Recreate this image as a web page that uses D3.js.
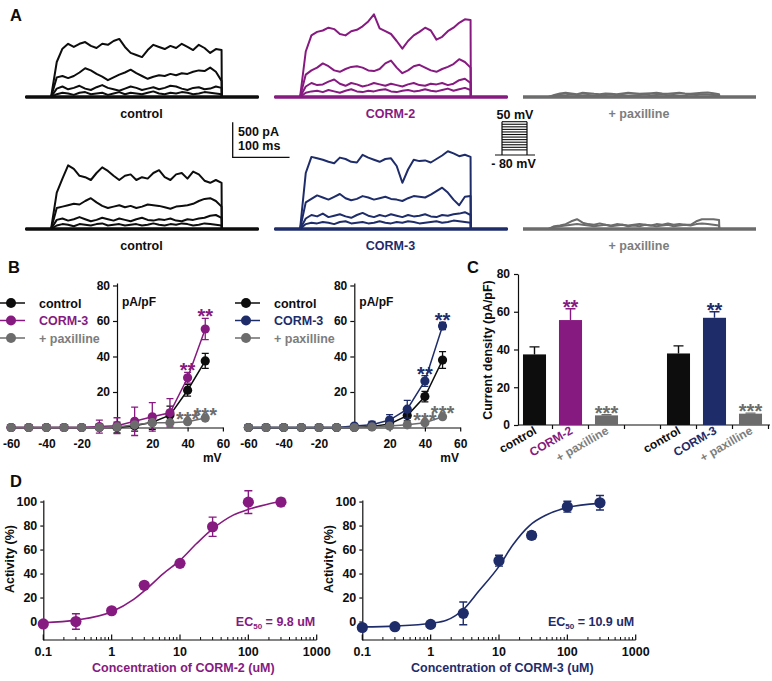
<!DOCTYPE html>
<html>
<head>
<meta charset="utf-8">
<script src="https://cdn.jsdelivr.net/npm/d3@7"></script>
<style>
  body { margin: 0; background: #fff; }
  svg { display: block; }
</style>
</head>
<body>
<svg id="fig" width="772" height="681"></svg>
<script>
// ---------- panel A : current traces (pA), sampled every 10 ms after pulse onset ----------
const traceTimes = [0,10,20,30,40,50,60,70,80,90,100,110,120,130,140,150,160,170,180,190,200,210,220,230,240,250,260,270,280,290,300];
const pulseOnset = 45, pulseLen = 300, sweepEnd = 410;

const ctl1a = [0,500,690,760,715,760,785,730,700,760, 745,800,830,715,630,600,570,670,745,715, 685,730,700,760,715,670,745,700,630,685, 670];
const ctl1b = [0,280,300,270,300,350,410,380,330,290, 240,280,320,350,390,340,300,260,290,310, 300,330,310,340,330,360,380,370,420,360, 230];
const ctl1c = [0,120,150,110,130,160,120,100,140,170, 130,110,90,120,150,130,100,120,140,110, 130,160,150,120,100,130,140,110,120,150, 130];
const ctl1d = [0,40,60,50,30,60,70,40,50,60, 30,50,70,40,60,50,40,60,80,50, 40,60,50,70,60,40,50,70,60,50, 40];

const corm2a = [0,650,880,930,950,990,970,900,880,940, 960,1010,1080,1180,980,940,900,800,690,800, 880,930,990,950,820,860,940,990,1060,1110, 1100];
const corm2b = [0,320,380,420,480,440,380,360,400,430, 440,420,380,370,400,480,520,420,340,380, 440,460,420,380,360,400,430,470,540,500, 420];
const corm2c = [0,150,200,170,180,220,250,190,160,200, 180,150,170,200,180,160,190,170,150,180, 200,170,160,190,180,200,170,190,240,260, 200];
const corm2d = [0,60,80,90,70,100,80,60,90,110, 80,70,90,80,100,110,80,70,90,100, 80,90,110,90,80,100,120,90,110,130, 100];

const pax1a = [0,30,50,60,50,40,60,55,45,40, 50,45,40,50,60,55,45,50,55,60, 50,45,55,60,50,45,55,60,65,55, 40];
const pax1b = [0,20,30,25,35,30,25,30,20,25, 30,35,25,30,20,25,30,35,25,30, 35,25,30,20,25,35,30,40,35,30, 25];

const ctl2a = [0,520,720,910,860,760,740,700,800,880, 830,760,700,760,780,700,740,720,800,840, 740,700,780,800,720,820,780,690,660,700, 660];
const ctl2b = [0,300,320,340,360,350,400,440,380,330, 300,320,340,310,330,300,320,350,340,330, 310,290,320,330,340,360,400,430,440,400, 320];
const ctl2c = [0,130,150,120,140,170,140,110,130,160, 140,120,150,130,110,140,160,130,120,140, 130,150,120,110,140,130,150,160,190,200, 160];
const ctl2d = [0,50,70,60,40,70,60,50,70,80, 50,60,70,50,60,70,50,60,80,60, 50,70,60,80,70,50,60,80,70,60, 50];

const corm3a = [0,800,1030,1010,990,960,940,1020,1000,960, 950,1060,1020,990,960,1000,1010,900,660,850, 990,970,980,950,1000,1050,1110,1080,1040,1060, 1030];
const corm3b = [0,380,430,480,450,420,460,500,440,410, 430,470,450,420,440,460,430,420,400,440, 470,460,450,490,540,590,520,420,340,460, 470];
const corm3c = [0,150,200,180,220,170,190,210,180,160, 200,230,190,170,200,180,210,190,170,200, 180,190,210,180,170,200,190,210,220,240, 200];
const corm3d = [0,70,90,80,100,90,70,100,110,80, 90,100,80,90,110,90,80,100,90,110, 100,80,90,100,110,90,100,120,110,100, 90];

const pax2a = [0,40,50,70,110,140,90,70,60,80, 60,50,70,60,50,60,70,60,50,70, 60,80,60,70,60,60,110,140,140,140, 130];
const pax2b = [0,30,40,50,60,70,60,50,40,50, 60,40,50,60,40,50,40,60,50,40, 50,60,40,50,60,50,70,80,70,60, 50];

// ---------- panel B : I-V curves ----------
const ivVoltage = [-60,-50,-40,-30,-20,-10,0,10,20,30,40,50];
const ivXTicks = [-60,-40,-20,20,40,60];
const ivYTicks = [20,40,60,80];
const ivLeftControl    = [0,0,0,0,0,0,0,1,3,7,21,37.5];
const ivLeftControlErr = [0,0,0,0,0,0,3,3,4,5,3.3,4.2];
const ivLeftCorm       = [0,0,0,0,0,0.5,1,3.5,6,8.3,28,55.5];
const ivLeftCormErr    = [0,0,0,0,0,3.7,4.5,8,8,8,3,6];
const ivLeftPax        = [0,0,0,0,0,0,0.3,1.5,2.7,2.7,3.3,5.3];
const ivLeftPaxErr     = [0,0,0,0,0,0,0,0,0,0.5,0.5,0.8];
const ivRightControl    = [0,0,0,0,0,0,0,0.5,2,6.7,17.4,38];
const ivRightControlErr = [0,0,0,0,0,0,0,1,1.5,3,3,4.7];
const ivRightCorm       = [0,0,0,0,0,0,0.8,1.5,4.2,10.3,26.2,57.2];
const ivRightCormErr    = [0,0,0,0,0,0,1,2,3,5,3,2];
const ivRightPax        = [0,0,0,0,0,0,0,0.3,0.8,1.5,2.7,6.1];
const ivRightPaxErr     = [0,0,0,0,0,0,0,0,0,0.5,0.5,0.8];
const ivLegend = ['control', 'CORM-3', '+ paxilline'];

// ---------- panel C : current density bars ----------
const barLabels = ['control', 'CORM-2', '+ paxilline', '', 'control', 'CORM-3', '+ paxilline'];
const barValues = [37.4, 55.6, 5.1, null, 37.9, 56.8, 6.0];
const barErrors = [4, 6, 0.3, null, 4, 3.2, 0.3];
const barStars  = ['', '**', '***', '', '', '**', '***'];
const barYTicks = [0,20,40,60,80];

// ---------- panel D : concentration-response ----------
const doseConc = [0.1,0.3,1,3,10,30,100,300];
const corm2Activity = [-2,0,9,30.2,48.5,79,99.5,99.5];
const corm2Err      = [0,6.5,1,2,2,8,9.5,3];
const corm3Activity = [-5,-4.3,-2.4,6.8,50.7,71.8,95.7,99];
const corm3Err      = [0,0,0,9.5,4.5,3,4.5,6];
const corm2FitConc = [0.1,0.3,1,2.1,3.3,5.7,10,17.5,30.6,60,100,185,300];
const corm2FitAct  = [-1,1.2,8.2,18.5,27.6,40,51,65,77.6,88.7,93.5,97.6,100];
const corm3FitConc = [0.1,0.3,1,1.7,3,5,10,16,28,50,100,300];
const corm3FitAct  = [-4.5,-3.8,-1.5,1,10,25,46,64,80,89,95,98.5];
const doseMajor = [0.1,1,10,100,1000];
const doseMajorLabels = ['0.1','1','10','100','1000'];
const doseYTicks = [0,20,40,60,80,100];

// ---------- styles ----------
const FONT = '"Liberation Sans", Arial, Helvetica, sans-serif';
const black = '#0d0d0d', purple = '#861a80', navy = '#1e2c6a', gray = '#6c6c6c', grayText = '#7d7d7d';

const svg = d3.select('#fig').attr('font-family', FONT).attr('font-weight', 'bold');
svg.append('rect').attr('width', 772).attr('height', 681).attr('fill', '#fff');

function txt(g, x, y, s, o = {}) {
  return g.append('text').attr('x', x).attr('y', y).text(s)
    .attr('font-size', o.size || 12.5)
    .attr('fill', o.color || black)
    .attr('text-anchor', o.anchor || 'start');
}
function styleAxis(sel, size) {
  sel.attr('font-family', FONT).attr('font-size', size).attr('font-weight', 'bold');
  sel.selectAll('path, line').attr('stroke', black).attr('stroke-width', 1.2);
  sel.selectAll('text').attr('fill', black);
}
// plain hyphen for negative ticks, as in the figure
const plain = d => String(d);

// panel letters
txt(svg, 10, 21, 'A', {size: 16.5});
txt(svg, 8, 273, 'B', {size: 16.5});
txt(svg, 467, 273, 'C', {size: 16.5});
txt(svg, 10, 487, 'D', {size: 16.5});

// ================= A =================
const aGroups = [
  {x0: 25.5, base: 97,  color: black,  traces: [ctl1d, ctl1c, ctl1b, ctl1a],     label: 'control',     lc: black},
  {x0: 274.5, base: 97, color: purple, traces: [corm2d, corm2c, corm2b, corm2a], label: 'CORM-2',      lc: purple},
  {x0: 523, base: 97,   color: gray,   traces: [pax1b, pax1a],                   label: '+ paxilline', lc: grayText},
  {x0: 25.5, base: 229, color: black,  traces: [ctl2d, ctl2c, ctl2b, ctl2a],     label: 'control',     lc: black},
  {x0: 274.5, base: 229, color: navy,  traces: [corm3d, corm3c, corm3b, corm3a], label: 'CORM-3',      lc: navy},
  {x0: 523, base: 229,  color: gray,   traces: [pax2b, pax2a],                   label: '+ paxilline', lc: grayText}
];

let tA, aA;
aGroups.forEach(gr => {
  const t = d3.scaleLinear().domain([0, sweepEnd]).range([gr.x0, gr.x0 + 233]);
  const a = d3.scaleLinear().domain([0, 500]).range([gr.base, gr.base - 35]);
  tA = t; aA = a;
  const line = d3.line().x(d => t(d[0])).y(d => a(d[1]));
  const pts = v => [[0, 0], [pulseOnset, 0]]
    .concat(v.map((d, i) => [pulseOnset + traceTimes[i], d]))
    .concat([[pulseOnset + pulseLen + 0.5, 0], [sweepEnd, 0]]);
  const g = svg.append('g');
  g.append('path').attr('d', line([[0, 0], [sweepEnd, 0]]))
    .attr('fill', 'none').attr('stroke', gr.color).attr('stroke-width', 3.4);
  g.selectAll('path.tr').data(gr.traces).join('path')
    .attr('class', 'tr')
    .attr('d', d => line(pts(d)))
    .attr('fill', 'none').attr('stroke', gr.color)
    .attr('stroke-width', 2).attr('stroke-linejoin', 'round');
  txt(g, gr.x0 + 116, gr.base + 20.5, gr.label, {anchor: 'middle', color: gr.lc});
});

// scale bar (500 pA, 100 ms)
{
  const g = svg.append('g');
  const bx = 232.7, by = 157.3;
  const h = aA(0) - aA(500), w = tA(100) - tA(0);
  g.append('path').attr('d', `M${bx},${by - h}V${by}H${bx + w}`)
    .attr('fill', 'none').attr('stroke', black).attr('stroke-width', 1.3);
  txt(g, 238, 136, '500 pA');
  txt(g, 238, 149.5, '100 ms');
}

// voltage protocol
{
  const g = svg.append('g');
  const vy = d3.scaleLinear().domain([-80, 50]).range([155, 121.7]);
  const xl = 502, xr = 527;
  g.selectAll('line.step').data(ivVoltage).join('line')
    .attr('class', 'step')
    .attr('x1', xl).attr('x2', xr).attr('y1', d => vy(d)).attr('y2', d => vy(d))
    .attr('stroke', black).attr('stroke-width', 1.1);
  g.append('line').attr('x1', 495).attr('x2', 535).attr('y1', vy(-80)).attr('y2', vy(-80))
    .attr('stroke', black).attr('stroke-width', 1.2);
  [xl, xr].forEach(x => g.append('line').attr('x1', x).attr('x2', x)
    .attr('y1', vy(-80)).attr('y2', vy(50)).attr('stroke', black).attr('stroke-width', 1.2));
  txt(g, 515, 119, '50 mV', {anchor: 'middle'});
  txt(g, 513.5, 168, '- 80 mV', {anchor: 'middle'});
}

// ================= B =================
function ivPlot(o) {
  const g = svg.append('g');
  const k = 1.765;
  const x = d3.scaleLinear().domain([-62.4, 60]).range([o.zero - 62.4 * k, o.zero + 60 * k]);
  const y = d3.scaleLinear().domain([0, 81.4]).range([427.5, 283]);

  g.append('g').attr('transform', `translate(${o.zero},0)`)
    .call(d3.axisLeft(y).tickValues(ivYTicks).tickFormat(plain).tickSize(4).tickSizeOuter(0).tickPadding(3))
    .call(styleAxis, 12);
  g.append('g').attr('transform', `translate(0,${y(0)})`)
    .call(d3.axisBottom(x).tickValues(ivXTicks).tickFormat(plain).tickSize(4).tickSizeOuter(0).tickPadding(8))
    .call(styleAxis, 12);

  txt(g, o.zero + 5, 306, 'pA/pF', {size: 12});
  txt(g, x(54), 462, 'mV', {size: 12, anchor: 'middle'});

  o.series.forEach(s => {
    const pts = ivVoltage.map((v, i) => ({v, m: s.mean[i], e: s.err[i]}));
    g.append('path').attr('d', d3.line().x(d => x(d.v)).y(d => y(d.m))(pts))
      .attr('fill', 'none').attr('stroke', s.color).attr('stroke-width', 1.5);
    const eb = pts.filter(d => d.e > 0);
    g.selectAll(null).data(eb).join('path')
      .attr('d', d => `M${x(d.v)},${y(d.m - d.e)}V${y(d.m + d.e)}M${x(d.v) - 3.5},${y(d.m + d.e)}h7M${x(d.v) - 3.5},${y(d.m - d.e)}h7`)
      .attr('stroke', s.color).attr('stroke-width', 1.3).attr('fill', 'none');
    g.selectAll(null).data(pts).join('circle')
      .attr('cx', d => x(d.v)).attr('cy', d => y(d.m)).attr('r', 4.6).attr('fill', s.color);
    Object.entries(s.stars || {}).forEach(([v, str]) => {
      const i = ivVoltage.indexOf(+v);
      txt(g, x(+v), y(s.mean[i] + s.err[i]) + 5, str, {size: 20, anchor: 'middle', color: s.color});
    });
  });

  // legend
  o.series.forEach((s, i) => {
    const ly = 303 + i * 17.5;
    g.append('line').attr('x1', o.legX).attr('x2', o.legX + 25).attr('y1', ly).attr('y2', ly)
      .attr('stroke', s.color).attr('stroke-width', 1.5);
    g.append('circle').attr('cx', o.legX + 11).attr('cy', ly).attr('r', 5).attr('fill', s.color);
    txt(g, o.legX + 39, ly + 4.5, ivLegend[i], {size: 12.5, color: s.textColor || s.color});
  });
}

ivPlot({
  zero: 117, legX: 0,
  series: [
    {mean: ivLeftControl, err: ivLeftControlErr, color: black},
    {mean: ivLeftCorm, err: ivLeftCormErr, color: purple, stars: {40: '**', 50: '**'}},
    {mean: ivLeftPax, err: ivLeftPaxErr, color: gray, textColor: grayText, stars: {40: '***', 50: '***'}}
  ]
});
ivPlot({
  zero: 354.3, legX: 235,
  series: [
    {mean: ivRightControl, err: ivRightControlErr, color: black},
    {mean: ivRightCorm, err: ivRightCormErr, color: navy, stars: {40: '**', 50: '**'}},
    {mean: ivRightPax, err: ivRightPaxErr, color: gray, textColor: grayText, stars: {40: '***', 50: '***'}}
  ]
});

// ================= C =================
{
  const g = svg.append('g');
  const colorOf = {'control': black, 'CORM-2': purple, 'CORM-3': navy, '+ paxilline': gray};
  const textOf = {'control': black, 'CORM-2': purple, 'CORM-3': navy, '+ paxilline': grayText};
  const x = d3.scaleBand().domain(d3.range(barLabels.length)).range([516.5, 768.5])
    .paddingInner(0.36).paddingOuter(0.18);
  const y = d3.scaleLinear().domain([0, 80]).range([425, 274]);
  const bw = x.bandwidth();

  g.append('g').attr('transform', 'translate(518,0)')
    .call(d3.axisLeft(y).tickValues(barYTicks).tickSize(4).tickSizeOuter(0).tickPadding(4))
    .call(styleAxis, 12);
  g.append('line').attr('x1', 518).attr('x2', 770).attr('y1', y(0)).attr('y2', y(0))
    .attr('stroke', black).attr('stroke-width', 1.2);
  g.selectAll(null).data(d3.range(barLabels.length)).join('line')
    .attr('x1', i => x(i) + bw + x.step() * 0.18).attr('x2', i => x(i) + bw + x.step() * 0.18)
    .attr('y1', y(0)).attr('y2', y(0) + 4).attr('stroke', black).attr('stroke-width', 1.2);

  const bars = barLabels.map((l, i) => ({i, l, v: barValues[i], e: barErrors[i], s: barStars[i]}))
    .filter(d => d.v !== null);
  g.selectAll(null).data(bars).join('path')
    .attr('d', d => `M${x(d.i) + bw / 2},${y(d.v)}V${y(d.v + d.e)}M${x(d.i) + bw / 2 - 5},${y(d.v + d.e)}h10`)
    .attr('stroke', d => colorOf[d.l]).attr('stroke-width', 1.4).attr('fill', 'none');
  g.selectAll(null).data(bars).join('rect')
    .attr('x', d => x(d.i)).attr('width', bw)
    .attr('y', d => y(d.v)).attr('height', d => y(0) - y(d.v))
    .attr('fill', d => colorOf[d.l]);
  bars.filter(d => d.s).forEach(d => {
    txt(g, x(d.i) + bw / 2, y(d.v + d.e) + 5, d.s, {size: 20, anchor: 'middle', color: colorOf[d.l]});
  });
  bars.forEach(d => {
    g.append('text').text(d.l)
      .attr('transform', `translate(${x(d.i) + bw / 2 + 3},433) rotate(-30)`)
      .attr('text-anchor', 'end').attr('font-size', 12).attr('fill', textOf[d.l]);
  });
  g.append('text').text('Current density (pA/pF)')
    .attr('transform', 'translate(492,350) rotate(-90)')
    .attr('text-anchor', 'middle').attr('font-size', 12.5).attr('fill', black);
}

// ================= D =================
function dosePanel(o) {
  const g = svg.append('g');
  const x = d3.scaleLog().domain([0.1, 1000]).range([o.ax, o.ax + 273.4]);
  const y = d3.scaleLinear().domain([-15.4, 101.3]).range([640, 500]);

  g.append('g').attr('transform', `translate(${o.ax},0)`)
    .call(d3.axisLeft(y).tickValues(doseYTicks).tickSize(3).tickSizeOuter(0).tickPadding(3))
    .call(styleAxis, 12.5);
  g.append('line').attr('x1', o.ax).attr('x2', o.ax + 273.4).attr('y1', 640).attr('y2', 640)
    .attr('stroke', black).attr('stroke-width', 1.2);
  const isMajor = t => Math.abs(Math.log10(t) - Math.round(Math.log10(t))) < 1e-6;
  g.selectAll(null).data(x.ticks().filter(t => !isMajor(t))).join('line')
    .attr('x1', d => x(d)).attr('x2', d => x(d)).attr('y1', 640).attr('y2', 637)
    .attr('stroke', black).attr('stroke-width', 1);
  g.selectAll(null).data(doseMajor).join('line')
    .attr('x1', d => x(d)).attr('x2', d => x(d)).attr('y1', 640).attr('y2', 634.5)
    .attr('stroke', black).attr('stroke-width', 1.2);
  doseMajor.forEach((d, i) => txt(g, x(d), 656, doseMajorLabels[i], {anchor: 'middle'}));

  const fit = o.fitConc.map((c, i) => [c, o.fitAct[i]]);
  g.append('path').attr('d', d3.line().x(d => x(d[0])).y(d => y(d[1])).curve(d3.curveMonotoneX)(fit))
    .attr('fill', 'none').attr('stroke', o.color).attr('stroke-width', 1.6);

  const pts = doseConc.map((c, i) => ({c, m: o.act[i], e: o.err[i]}));
  g.selectAll(null).data(pts.filter(d => d.e > 0)).join('path')
    .attr('d', d => `M${x(d.c)},${y(d.m - d.e)}V${y(d.m + d.e)}M${x(d.c) - 4},${y(d.m + d.e)}h8M${x(d.c) - 4},${y(d.m - d.e)}h8`)
    .attr('stroke', o.color).attr('stroke-width', 1.4).attr('fill', 'none');
  g.selectAll(null).data(pts).join('circle')
    .attr('cx', d => x(d.c)).attr('cy', d => y(d.m)).attr('r', 5.6).attr('fill', o.color);

  g.append('text').text('Activity (%)')
    .attr('transform', `translate(${o.ax - 29},559) rotate(-90)`)
    .attr('text-anchor', 'middle').attr('font-size', 12.5).attr('fill', black);
  txt(g, o.ax + 140, 672, o.title, {anchor: 'middle', color: o.color});

  const ec = g.append('text').attr('x', o.ax + 272).attr('y', 626)
    .attr('text-anchor', 'end').attr('font-size', 12.5).attr('fill', o.color);
  ec.append('tspan').text('EC');
  ec.append('tspan').text('50').attr('font-size', 8).attr('dy', 3);
  ec.append('tspan').text(' = ' + o.ec50 + ' uM').attr('dy', -3);
}

dosePanel({ax: 43.3, color: purple, act: corm2Activity, err: corm2Err,
  fitConc: corm2FitConc, fitAct: corm2FitAct, title: 'Concentration of CORM-2 (uM)', ec50: '9.8'});
dosePanel({ax: 362.3, color: navy, act: corm3Activity, err: corm3Err,
  fitConc: corm3FitConc, fitAct: corm3FitAct, title: 'Concentration of CORM-3 (uM)', ec50: '10.9'});
</script>
</body>
</html>
